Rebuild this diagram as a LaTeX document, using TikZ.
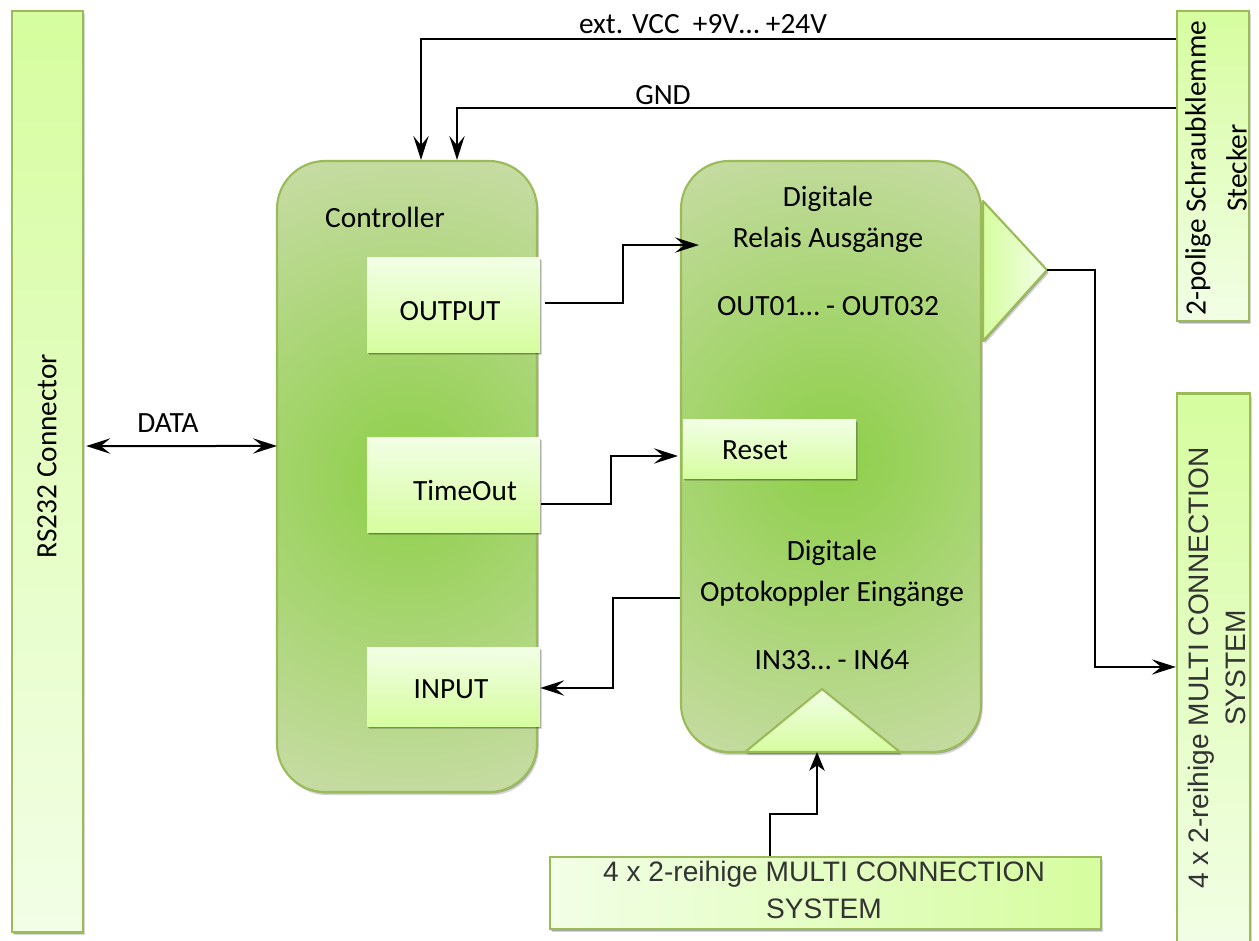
\documentclass[tikz,border=0pt]{standalone}
\usepackage{fontspec}
\setmainfont{Carlito}
\newfontfamily\arialf{Liberation Sans}
\usetikzlibrary{shadows,arrows.meta,calc}
\definecolor{edgeg}{HTML}{9BBB59}
\definecolor{lightg}{HTML}{F2FEE6}
\definecolor{richg}{HTML}{D6FD9F}
\definecolor{midg}{HTML}{92D050}
\definecolor{outg}{HTML}{C8DCA6}
\pgfdeclareradialshading{blockshade}{\pgfpoint{0bp}{0bp}}{color(0bp)=(midg); color(2bp)=(midg); color(25bp)=(outg); color(50bp)=(outg)}
\def\fs{\fontsize{22pt}{30.75pt}\selectfont}
\def\fa{\arialf\fontsize{21.1pt}{27.75pt}\selectfont}
\tikzset{
  x=0.75pt,y=-0.75pt,
  softshadow/.style={
    drop shadow={shadow xshift=0.8pt,shadow yshift=-1.2pt,opacity=.22,fill=black},
    drop shadow={shadow xshift=1.4pt,shadow yshift=-2.4pt,opacity=.16,fill=black}},
  block/.style={draw=edgeg,line width=1.6pt,rounded corners=36pt,fill=outg,softshadow,inner sep=0pt,
    path picture={\shade[shading=blockshade] (path picture bounding box.center) circle (255pt);}},
  tab/.style={shade,softshadow,inner sep=0pt,top color=lightg,bottom color=richg},
  endbox/.style={draw=edgeg,line width=1.8pt,shade,softshadow,inner sep=0pt,align=center},
  tri/.style={draw=edgeg,line width=1.6pt,line join=round,softshadow},
  txt/.style={font=\fs,inner sep=0pt,text=black},
  conn/.style={draw=black,line width=1.5pt,line join=miter,-{Stealth[length=18pt,width=11.5pt,inset=7pt]}},
  conntwo/.style={draw=black,line width=1.5pt,{Stealth[length=18pt,width=11.5pt,inset=7pt]}-{Stealth[length=18pt,width=11.5pt,inset=7pt]}},
  connup/.style={draw=black,line width=1.5pt,line join=miter,-{Stealth[length=14pt,width=11.5pt,inset=4pt]}}
}
\begin{document}
\begin{tikzpicture}
\useasboundingbox (0,0) rectangle (1259,940);
% end boxes
\node[endbox,top color=richg,bottom color=lightg,minimum width=53.25pt,minimum height=690.75pt] (rs) at (47.5,471.5) {};
\node[rotate=90,font=\fs,inner sep=0pt] (trs) at (47,456) {RS232 Connector};
\node[endbox,top color=richg,bottom color=lightg,minimum width=54pt,minimum height=232.5pt] (term) at (1213,166) {};
\node[rotate=90,font=\fs,inner sep=0pt,align=center] (tterm) at (1216,168) {2-polige Schraubklemme\\Stecker};
\node[endbox,top color=richg,bottom color=lightg,minimum width=54.75pt,minimum height=417pt] (mcr) at (1213.5,671.5) {};
\node[rotate=90,font=\fa,inner sep=0pt,align=center,text=black!80] (tmcr) at (1216.5,668) {4 x 2-reihige MULTI CONNECTION\\SYSTEM};
\node[endbox,left color=lightg,right color=richg,minimum width=413.25pt,minimum height=54pt] (mcb) at (825.5,893) {};
\node[font=\fa,inner sep=0pt,align=center,text=black!80] (tmcb) at (824,890) {4 x 2-reihige MULTI CONNECTION\\SYSTEM};
% main blocks
\node[block,minimum width=195pt,minimum height=473.25pt] (ctrl) at (407,476.5) {};
\node[block,minimum width=225pt,minimum height=443.25pt] (dig) at (831,456.5) {};
% triangles
\path[tri,left color=richg,right color=lightg] (983,201) -- (1047,270) coordinate (trtip) -- (983,341) -- cycle;
\path[tri,top color=lightg,bottom color=richg] (745,752) -- (822,689) -- (900,752) -- cycle;
\coordinate (tbbase) at (817,752);
% inner tabs
\node[tab,minimum width=129.75pt,minimum height=71.25pt] (out) at (453.5,304.5) {};
\node[tab,minimum width=129.75pt,minimum height=71.25pt] (tim) at (453.5,484.5) {};
\node[tab,minimum width=129.75pt,minimum height=59.25pt] (inp) at (453.5,686.5) {};
\node[tab,minimum width=129.75pt,minimum height=44.25pt] (rst) at (769.5,448.5) {};
% texts
\node[txt] (tvcc) at (703,24) {ext. VCC\ \ +9V… +24V};
\node[txt] (tgnd) at (663,95) {GND};
\node[txt] (tdata) at (168,423) {DATA};
\node[txt] (tctrl) at (385,217) {Controller};
\node[txt] (tout) at (450,311) {OUTPUT};
\node[txt] (ttim) at (465,491) {TimeOut};
\node[txt] (tinp) at (451,689) {INPUT};
\node[txt] (trst) at (755,450) {Reset};
\node[txt] (td1) at (828,199) {Digitale};
\node[txt] (td2) at (828,240) {Relais Ausgänge};
\node[txt] (td3) at (828,306) {OUT01… - OUT032};
\node[txt] (td4) at (832,553) {Digitale};
\node[txt] (td5) at (832,594) {Optokoppler Eingänge};
\node[txt] (td6) at (832,660) {IN33… - IN64};
% connectors
\draw[conn] ([yshift=95.25pt]term.west) -| ([xshift=10.5pt]ctrl.north);
\draw[conn] ([yshift=43.5pt]term.west) -| ([xshift=37.5pt]ctrl.north);
\draw[conntwo] ([xshift=1.5pt,yshift=19.1pt]rs.east) -- ([xshift=0.8pt,yshift=22.9pt]ctrl.west);
\draw[conn] ([xshift=3.75pt,yshift=1.1pt]out.east) -- ++(58.5pt,0) |- ([xshift=14.25pt,yshift=158.6pt]dig.west);
\draw[conn] ([xshift=0.75pt,yshift=-14.6pt]tim.east) -- ++(52.5pt,0) |- ([xshift=-1.5pt,yshift=-5.6pt]dig.west|-rst.west);
\draw[conn] ([yshift=-106.1pt]dig.west) -- ++(-50.25pt,0) |- ([yshift=-1.1pt]inp.east);
\draw[conn] (trtip) -- ++(36pt,0) |- ([yshift=3.4pt]mcr.west);
\draw[connup] ([xshift=-41.6pt]mcb.north) -- ++(0,31.5pt) -| (tbbase);
\end{tikzpicture}
\end{document}
